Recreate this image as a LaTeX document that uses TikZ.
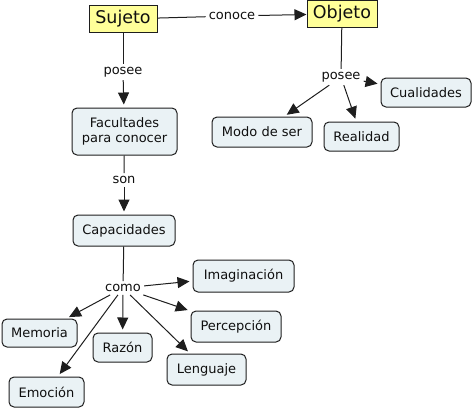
\documentclass[tikz,border=0pt]{standalone}
\usepackage{fontspec}
\setmainfont{DejaVu Sans}
\usetikzlibrary{arrows.meta}
\definecolor{boxfill}{RGB}{234,242,245}
\definecolor{mainfill}{RGB}{255,255,153}
\definecolor{edge}{RGB}{30,30,30}
\definecolor{txt}{RGB}{15,15,15}
\tikzset{
  concept/.style={draw=edge, fill=boxfill, rounded corners=5pt, line width=1pt,
    font=\fontsize{13}{15.7}\selectfont, text=txt, align=center, inner sep=0pt},
  mainc/.style={draw=edge, fill=mainfill, line width=1pt,
    font=\fontsize{17.5}{20}\selectfont, text=txt, inner sep=0pt},
  lbl/.style={font=\fontsize{13}{15.7}\selectfont, text=txt, inner sep=3pt},
  ln/.style={draw=edge, line width=1pt},
  arr/.style={ln, shorten >=3pt, -{Triangle[length=12pt,width=11pt]}},
}
\begin{document}
\begin{tikzpicture}[x=1pt,y=-1pt]
\useasboundingbox (0,0) rectangle (474,408);
% main concepts
\node[mainc, minimum width=68pt, minimum height=27pt] (suj) at (123,19) {Sujeto};
\node[mainc, minimum width=70pt, minimum height=27pt] (obj) at (342,13.8) {Objeto};
% concepts
\node[concept, minimum width=105pt, minimum height=47pt] (fac) at (124.5,131.5) {Facultades\\para conocer};
\node[concept, minimum width=102pt, minimum height=31pt] (cap) at (124,230.5) {Capacidades};
\node[concept, minimum width=101pt, minimum height=32pt] (ima) at (243.5,276) {Imaginación};
\node[concept, minimum width=90pt, minimum height=31pt] (per) at (236,326.5) {Percepción};
\node[concept, minimum width=79pt, minimum height=31pt] (len) at (206.5,369.5) {Lenguaje};
\node[concept, minimum width=59pt, minimum height=29pt] (raz) at (122.5,347.5) {Razón};
\node[concept, minimum width=75pt, minimum height=28pt] (mem) at (39.5,333) {Memoria};
\node[concept, minimum width=75pt, minimum height=30pt] (emo) at (46.5,392) {Emoción};
\node[concept, minimum width=90pt, minimum height=29pt] (cua) at (426,92.5) {Cualidades};
\node[concept, minimum width=100pt, minimum height=30pt] (mod) at (262,132) {Modo de ser};
\node[concept, minimum width=75pt, minimum height=29pt] (rea) at (361.5,136.5) {Realidad};
% linking phrases
\node[lbl] (conoce) at (232,16) {conoce};
\node[lbl] (posA) at (123,72) {posee};
\node[lbl] (son) at (124,180) {son};
\node[lbl] (como) at (123,288) {como};
\node[lbl] (posB) at (341,77) {posee};
% connectors
\draw[ln] (suj) -- (conoce);
\draw[arr, shorten >=0pt] (conoce) -- (obj);
\draw[ln] (suj) -- (posA);
\draw[arr] (posA) -- (fac);
\draw[ln] (fac) -- (son);
\draw[arr] (son) -- (cap);
\draw[ln] (cap) -- (como);
\draw[arr] (como) -- (ima);
\draw[arr] (como) -- (per);
\draw[arr] (como) -- (len);
\draw[arr] (como) -- (raz);
\draw[arr] (como) -- (mem);
\draw[arr] (como) -- (emo);
\draw[ln] (obj) -- (posB);
\draw[arr] (posB) -- (cua);
\draw[arr] (posB) -- (mod);
\draw[arr] (posB) -- (rea);
\end{tikzpicture}
\end{document}
